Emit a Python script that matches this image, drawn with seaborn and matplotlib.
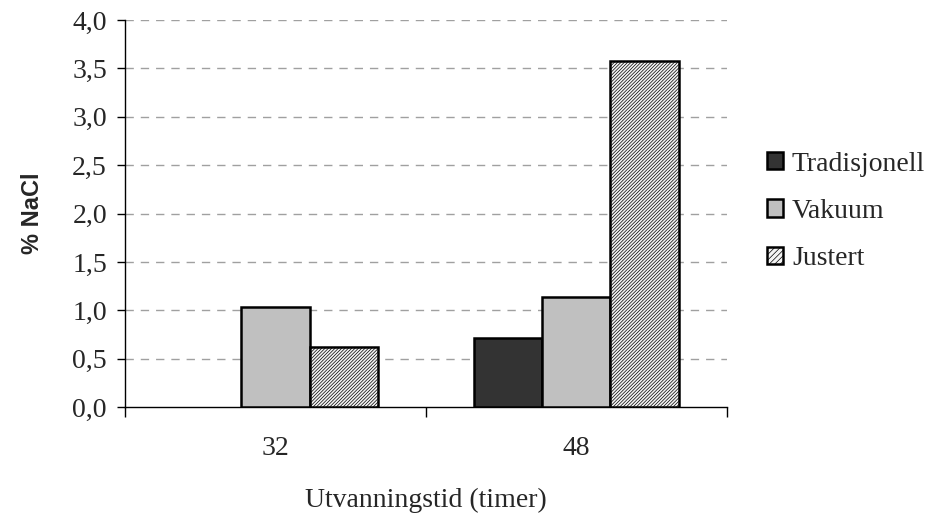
import numpy as np
import pandas as pd
import matplotlib
matplotlib.use("Agg")
import matplotlib.pyplot as plt
import seaborn as sns

categories = ["32", "48"]
series = ["Tradisjonell", "Vakuum", "Justert"]
tradisjonell = [np.nan, 0.71]
vakuum = [1.03, 1.14]
justert = [0.62, 3.58]
yticks = [0.0, 0.5, 1.0, 1.5, 2.0, 2.5, 3.0, 3.5, 4.0]

rows = []
for s, vals in zip(series, [tradisjonell, vakuum, justert]):
    for c, v in zip(categories, vals):
        rows.append({"tid": c, "serie": s, "val": v})
df = pd.DataFrame(rows)

sns.set_style("white")
plt.rcParams["font.family"] = ["Liberation Serif", "DejaVu Serif"]
plt.rcParams["hatch.linewidth"] = 0.5
plt.rcParams["hatch.color"] = "#9a9a9a"

FS = 20
fig = plt.figure(figsize=(9.33, 5.14), dpi=100)
ax = fig.add_axes([0.134, 0.208, 0.645, 0.753])

palette = {"Tradisjonell": "#333333", "Vakuum": "#c0c0c0", "Justert": "#f4f4f4"}
sns.barplot(data=df, x="tid", y="val", hue="serie", order=categories,
            hue_order=series, palette=palette, width=0.68, saturation=1,
            edgecolor="black", linewidth=1.8, ax=ax, legend=True, zorder=3)

HATCH = "/" * 10
for container, s in zip(ax.containers, series):
    if s == "Justert":
        for p in container.patches:
            p.set_hatch(HATCH)

ax.set_xlim(-0.5, 1.5)
ax.set_ylim(0, 4.0)
ax.set_yticks(yticks)
ax.set_yticklabels([f"{t:.1f}".replace(".", ",") for t in yticks], fontsize=FS)
ax.set_xticks([-0.5, 0.5, 1.5])
ax.set_xticklabels([])
ax.set_xticks([0, 1], minor=True)
ax.set_xticklabels(categories, minor=True, fontsize=FS)
ax.tick_params(axis="x", which="major", direction="out", length=7, width=1, color="black", bottom=True)
ax.tick_params(axis="x", which="minor", length=0, pad=21)
ax.tick_params(axis="y", direction="out", length=6, width=1, color="black", left=True, pad=7)

for t in yticks[1:]:
    ax.axhline(t, color="#a0a0a0", linestyle=(0, (6, 5)), linewidth=1, zorder=1)

sns.despine(ax=ax)
for sp in ["left", "bottom"]:
    ax.spines[sp].set_color("black")
    ax.spines[sp].set_linewidth(1)

ax.set_xlabel("Utvanningstid (timer)", fontsize=FS, labelpad=19)
ax.set_ylabel("% NaCl", fontsize=17, fontweight="bold",
              family=["Liberation Sans", "DejaVu Sans"], labelpad=20)

handles, labels = ax.get_legend_handles_labels()
for h, s in zip(handles, labels):
    if s == "Justert":
        h.set_hatch("/" * 6)
leg = ax.legend(handles, labels, loc="center left", bbox_to_anchor=(0.822, 0.589),
                bbox_transform=fig.transFigure, borderpad=0, borderaxespad=0,
                frameon=False, fontsize=FS, handlelength=0.58, handleheight=0.58,
                handletextpad=0.32, labelspacing=0.8)

fig.savefig("out.png", dpi=100)
